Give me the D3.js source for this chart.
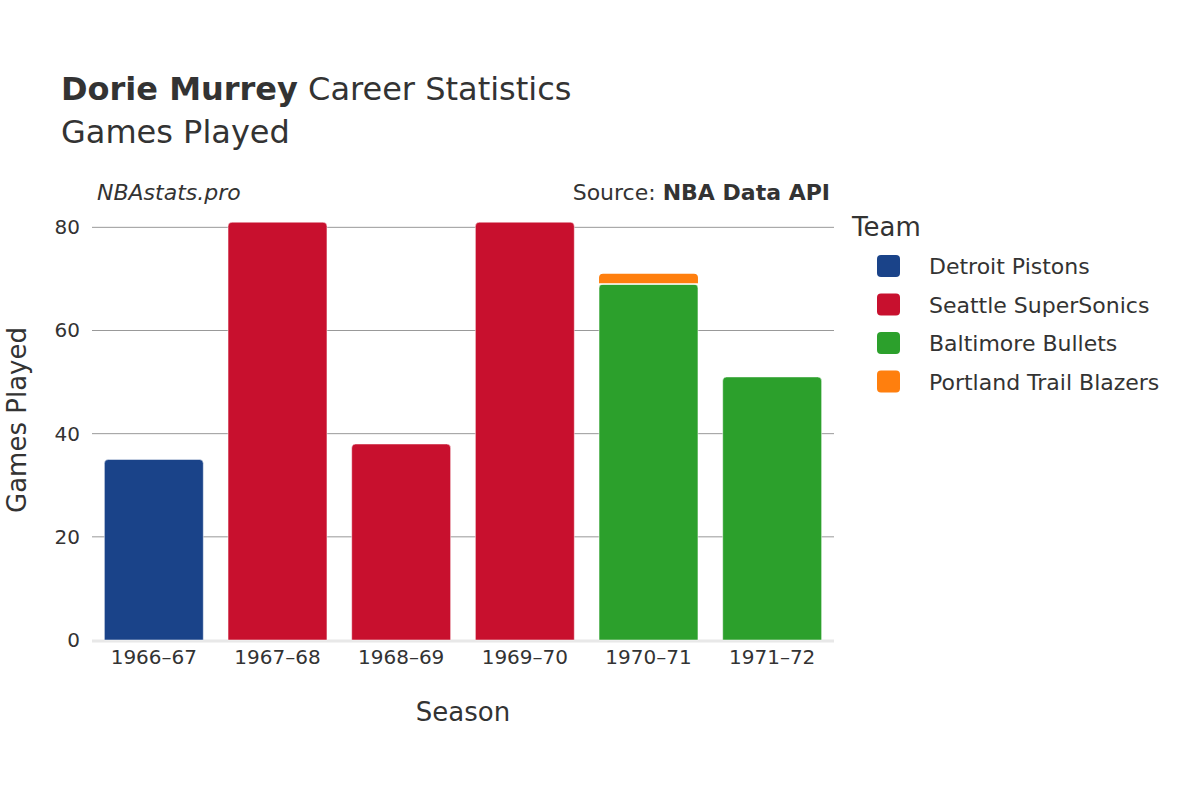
<!DOCTYPE html>
<html><head><meta charset="utf-8">
<script src="https://cdn.jsdelivr.net/npm/d3@7"></script>
<style>body{margin:0;background:#fff;font-family:"DejaVu Sans",sans-serif;}</style>
</head><body><svg id="c" width="1200" height="800"></svg>
<script>
const seasons = ["1966–67","1967–68","1968–69","1969–70","1970–71","1971–72"];
const teams = ["Detroit Pistons","Seattle SuperSonics","Baltimore Bullets","Portland Trail Blazers"];
const colors = ["#1a4389","#c8102e","#2ca02c","#ff7f0e"];
const rows = [
  {season:"1966–67", team:"Detroit Pistons", games:35},
  {season:"1967–68", team:"Seattle SuperSonics", games:81},
  {season:"1968–69", team:"Seattle SuperSonics", games:38},
  {season:"1969–70", team:"Seattle SuperSonics", games:81},
  {season:"1970–71", team:"Baltimore Bullets", games:69},
  {season:"1970–71", team:"Portland Trail Blazers", games:2},
  {season:"1971–72", team:"Baltimore Bullets", games:51}
];
const yTicks = [0,20,40,60,80];

const svg = d3.select("#c");
const L=92,R=834,T=200,B=640;
const x = d3.scaleBand().domain(seasons).range([L,R]).paddingInner(0.2).paddingOuter(0.1);
const y = d3.scaleLinear().domain([0,85.3]).range([B,T]);
const col = d3.scaleOrdinal().domain(teams).range(colors);
const c="#333";

svg.append("g").selectAll("line").data(yTicks.filter(d=>d>0)).join("line")
  .attr("x1",L).attr("x2",R).attr("y1",d=>y(d)).attr("y2",d=>y(d)).attr("stroke","#999").attr("stroke-width",1);
svg.append("line").attr("x1",L).attr("x2",R).attr("y1",B+1).attr("y2",B+1).attr("stroke","#e8e8e8").attr("stroke-width",3);

const stacks={};
rows.forEach(r=>{const b=stacks[r.season]||0; r.y0=b; r.y1=b+r.games; stacks[r.season]=r.y1;});
rows.forEach(r=>{
  const x0=x(r.season), w=x.bandwidth(), yt=y(r.y1), yb=y(r.y0), rr=Math.min(4,(yb-yt)/2);
  const p=`M${x0},${yb}V${yt+rr}Q${x0},${yt} ${x0+rr},${yt}H${x0+w-rr}Q${x0+w},${yt} ${x0+w},${yt+rr}V${yb}Z`;
  svg.append("path").attr("d",p).attr("fill",col(r.team)).attr("stroke","#fff").attr("stroke-width",r.y0>0?0:0.5);
  if(r.y0>0) svg.append("line").attr("x1",x0).attr("x2",x0+w).attr("y1",yb).attr("y2",yb).attr("stroke","#fff").attr("stroke-width",1.5);
});

const ya=svg.append("g").attr("transform",`translate(${L},0)`).call(d3.axisLeft(y).tickValues(yTicks).tickSize(0).tickPadding(12));
ya.select(".domain").remove();
ya.selectAll("text").attr("font-size",20).attr("fill",c).attr("font-family","DejaVu Sans");
const xa=svg.append("g").attr("transform",`translate(0,${B})`).call(d3.axisBottom(x).tickSize(0).tickPadding(10));
xa.select(".domain").remove();
xa.selectAll("text").attr("font-size",20).attr("fill",c).attr("font-family","DejaVu Sans");

svg.append("text").attr("x",61).attr("y",100).attr("font-size",32).attr("fill",c)
  .html('<tspan font-weight="bold">Dorie Murrey</tspan> Career Statistics');
svg.append("text").attr("x",61).attr("y",143).attr("font-size",32).attr("fill",c).text("Games Played");
svg.append("text").attr("x",97).attr("y",200).attr("font-size",22).attr("font-style","italic").attr("fill",c).text("NBAstats.pro");
svg.append("text").attr("x",830).attr("y",200).attr("font-size",22).attr("text-anchor","end").attr("fill",c)
  .html('Source: <tspan font-weight="bold">NBA Data API</tspan>');
svg.append("text").attr("x",463).attr("y",721).attr("font-size",26).attr("text-anchor","middle").attr("fill",c).text("Season");
svg.append("text").attr("transform","translate(26,420) rotate(-90)").attr("font-size",26).attr("text-anchor","middle").attr("fill",c).text("Games Played");

svg.append("text").attr("x",852).attr("y",236).attr("font-size",26).attr("fill",c).text("Team");
const lg=svg.append("g").selectAll("g").data(teams).join("g").attr("transform",(d,i)=>`translate(877,${266+i*38.5})`);
lg.append("rect").attr("x",0).attr("y",-11).attr("width",23).attr("height",22).attr("rx",4).attr("fill",d=>col(d));
lg.append("text").attr("x",52).attr("y",8).attr("font-size",22).attr("fill",c).text(d=>d);
</script></body></html>
